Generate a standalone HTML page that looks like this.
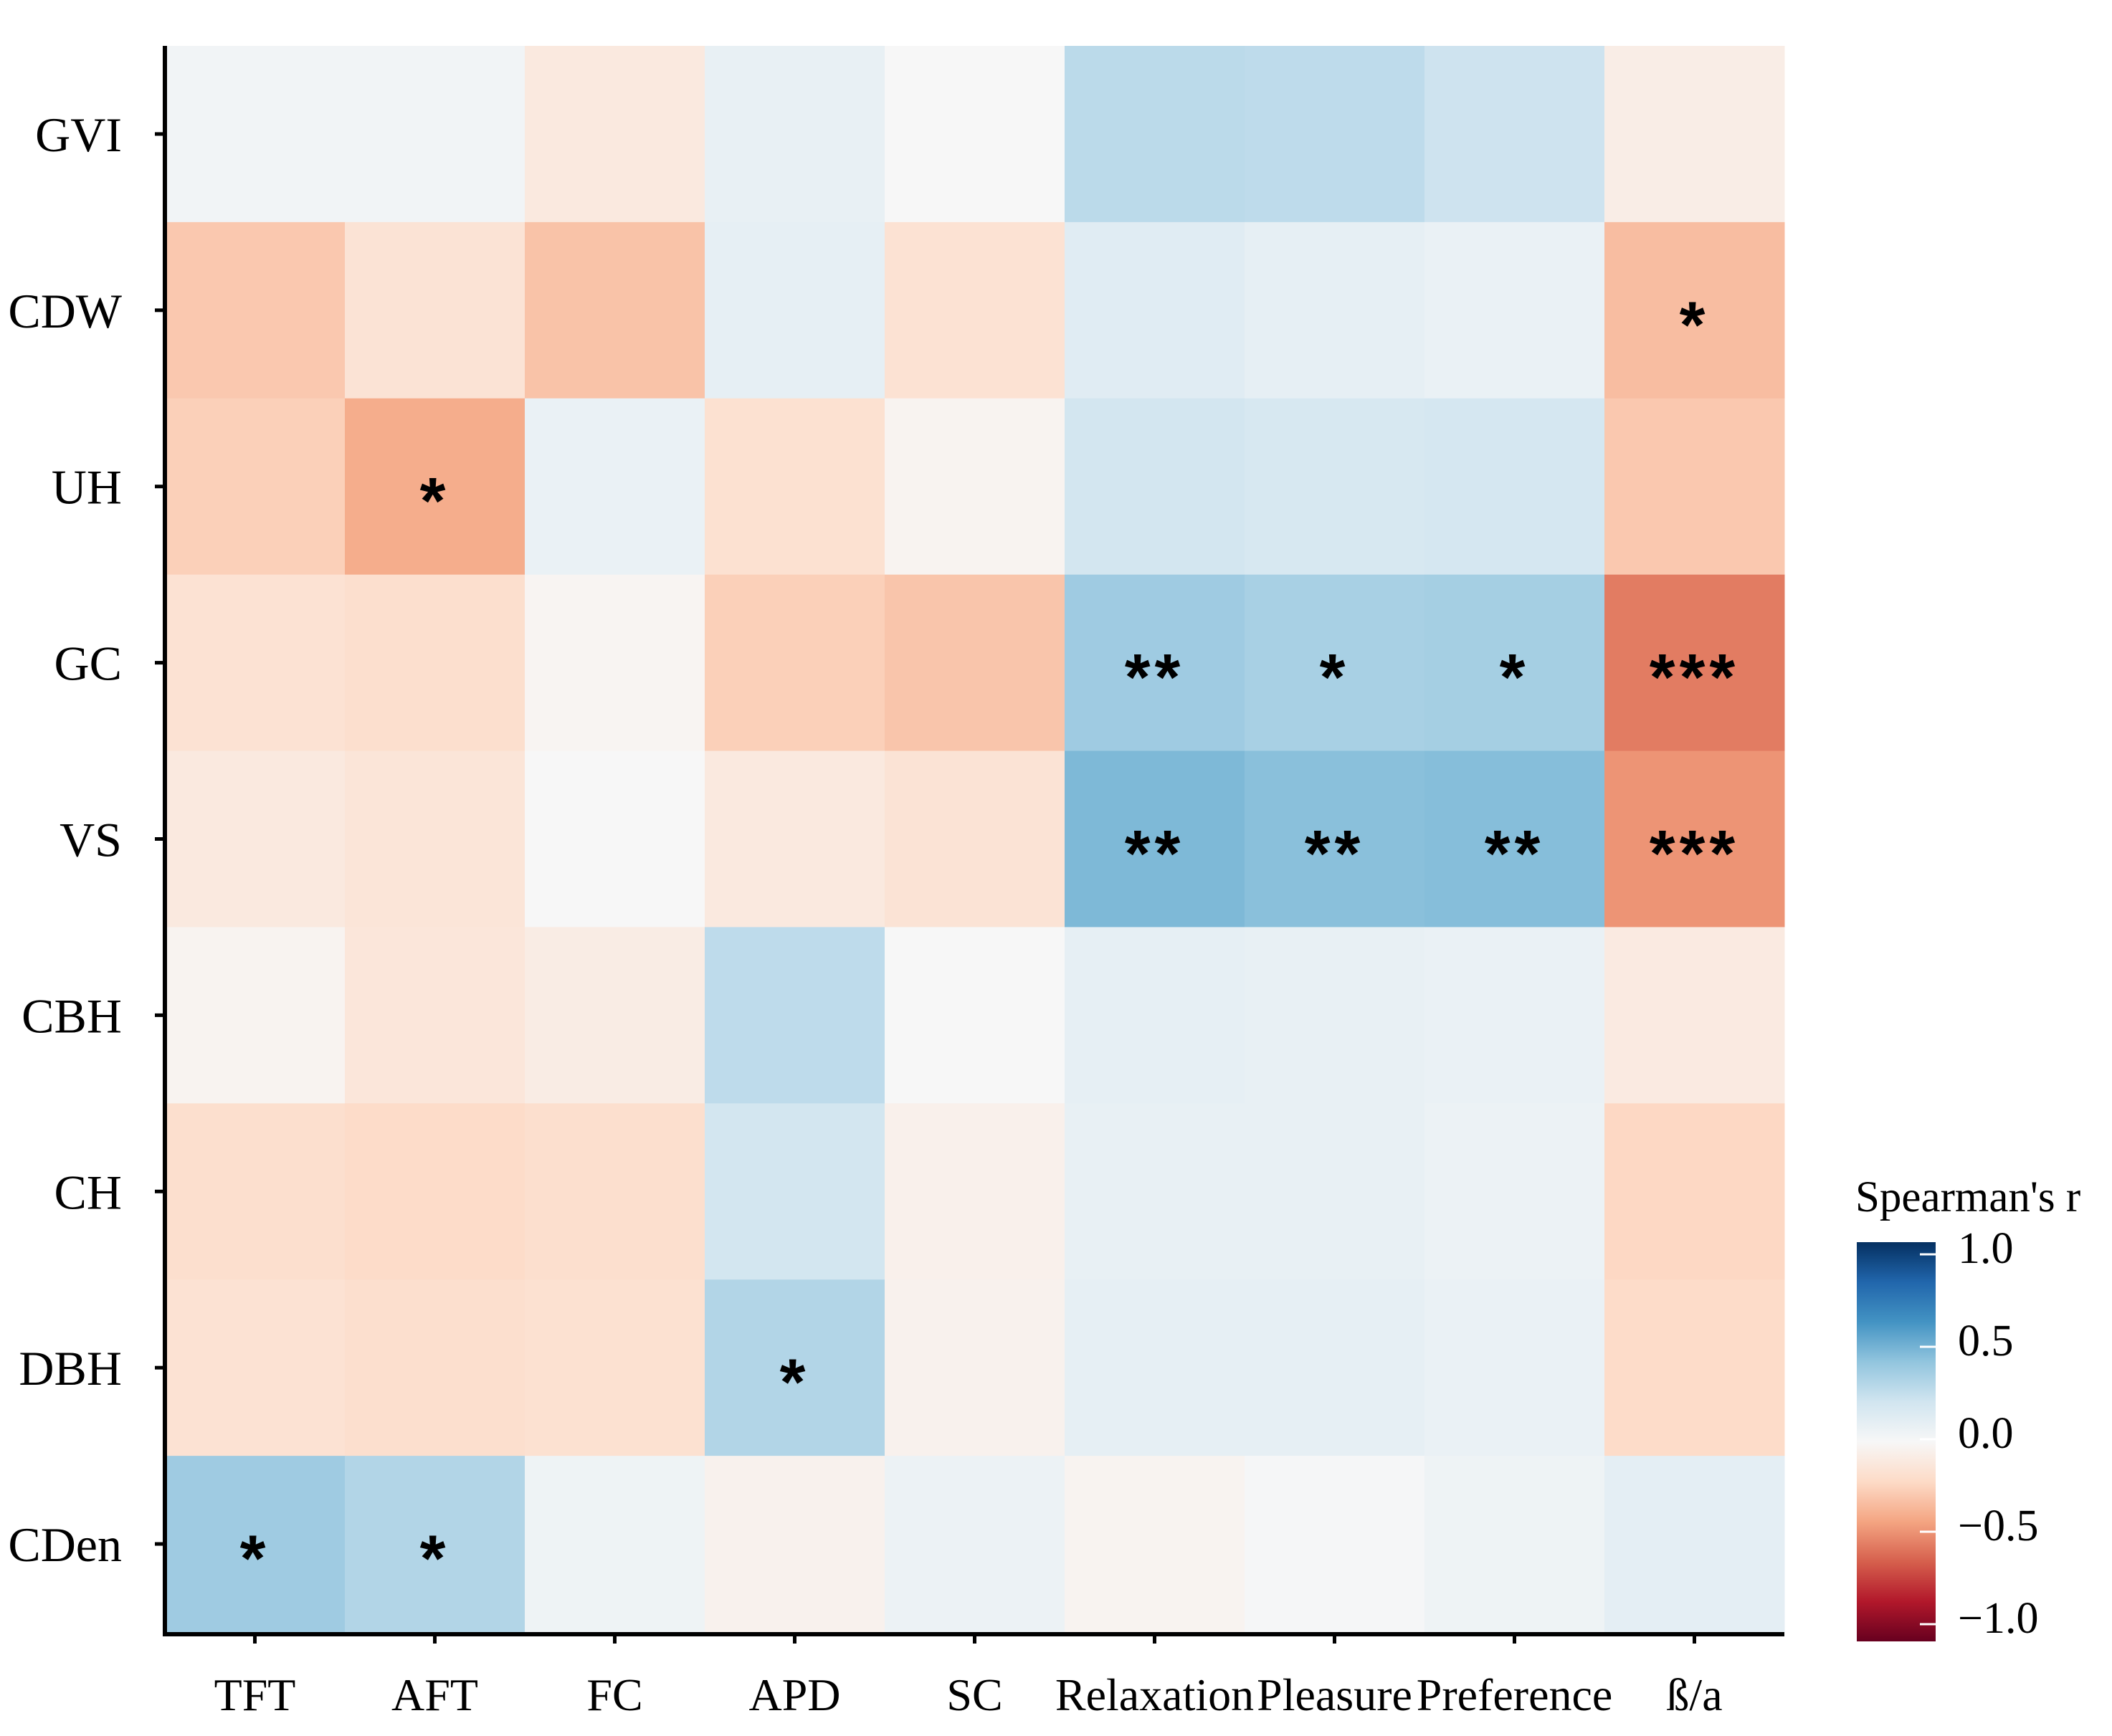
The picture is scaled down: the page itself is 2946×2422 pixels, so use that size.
<!DOCTYPE html>
<html><head><meta charset="utf-8"><style>
html,body{margin:0;padding:0;background:#fff;}
svg{display:block;font-family:"Liberation Serif",serif;}
</style></head><body>
<svg id="chart" width="2946" height="2422" viewBox="0 0 2946 2422" xmlns="http://www.w3.org/2000/svg">
<defs>
<linearGradient id="cbgrad" x1="0" y1="0" x2="0" y2="1">
<stop offset="0" stop-color="#053061"/><stop offset="0.1" stop-color="#2166ac"/><stop offset="0.2" stop-color="#4393c3"/><stop offset="0.3" stop-color="#92c5de"/><stop offset="0.4" stop-color="#d1e5f0"/><stop offset="0.5" stop-color="#f7f7f7"/><stop offset="0.6" stop-color="#fddbc7"/><stop offset="0.7" stop-color="#f4a582"/><stop offset="0.8" stop-color="#d6604d"/><stop offset="0.9" stop-color="#b2182b"/><stop offset="1" stop-color="#67001f"/>
</linearGradient>
</defs>
<g id="cells"></g>
<g id="stars"></g>
<g id="axes"></g>
<g id="legend">
<text x="2588" y="1690" font-size="61">Spearman's r</text>
<rect x="2590" y="1733" width="110" height="557" fill="url(#cbgrad)"/>
</g>
</svg>
<script>
const rows = ["GVI","CDW","UH","GC","VS","CBH","CH","DBH","CDen"];
const cols = ["TFT","AFT","FC","APD","SC","Relaxation","Pleasure","Preference","ß/a"];
const rGVI  = [0.03,0.03,-0.10,0.08,0.00,0.27,0.26,0.21,-0.07];
const rCDW  = [-0.27,-0.14,-0.29,0.09,-0.15,0.12,0.09,0.07,-0.31];
const rUH   = [-0.24,-0.37,0.07,-0.16,-0.03,0.19,0.17,0.18,-0.27];
const rGC   = [-0.15,-0.17,-0.02,-0.24,-0.28,0.36,0.33,0.34,-0.52];
const rVS   = [-0.10,-0.13,0.00,-0.10,-0.14,0.45,0.42,0.43,-0.45];
const rCBH  = [-0.03,-0.12,-0.08,0.26,0.00,0.09,0.08,0.07,-0.09];
const rCH   = [-0.17,-0.19,-0.17,0.19,-0.05,0.08,0.08,0.06,-0.21];
const rDBH  = [-0.15,-0.17,-0.16,0.30,-0.04,0.09,0.09,0.07,-0.19];
const rCDen = [0.36,0.30,0.05,-0.04,0.06,-0.03,0.01,0.05,0.10];
const sGVI  = ["","","","","","","","",""];
const sCDW  = ["","","","","","","","","*"];
const sUH   = ["","*","","","","","","",""];
const sGC   = ["","","","","","**","*","*","***"];
const sVS   = ["","","","","","**","**","**","***"];
const sCBH  = ["","","","","","","","",""];
const sCH   = ["","","","","","","","",""];
const sDBH  = ["","","","*","","","","",""];
const sCDen = ["*","*","","","","","","",""];
const legendTicks = [1.0,0.5,0.0,-0.5,-1.0];
const legendLabels = ["1.0","0.5","0.0","\u22120.5","\u22121.0"];

const values = [rGVI,rCDW,rUH,rGC,rVS,rCBH,rCH,rDBH,rCDen];
const stars = [sGVI,sCDW,sUH,sGC,sVS,sCBH,sCH,sDBH,sCDen];
const NS="http://www.w3.org/2000/svg";
const L=230,T=64,R=2489,B=2277;
const cw=(R-L)/cols.length, rh=(B-T)/rows.length;
const xPos=i=>L+i*cw, yPos=j=>T+j*rh;
const pal=["#67001f","#b2182b","#d6604d","#f4a582","#fddbc7","#f7f7f7","#d1e5f0","#92c5de","#4393c3","#2166ac","#053061"];
function hex(h){return [1,3,5].map(k=>parseInt(h.substr(k,2),16));}
function color(v){
  const t=(Math.max(-1,Math.min(1,v))+1)/2*10;
  const i=Math.min(9,Math.floor(t)), f=t-i;
  const a=hex(pal[i]), b=hex(pal[i+1]);
  return "rgb("+a.map((c,k)=>Math.round(c+(b[k]-c)*f)).join(",")+")";
}
const gC=document.getElementById("cells"), gS=document.getElementById("stars"), gA=document.getElementById("axes"), gL=document.getElementById("legend");
function mk(tag,attrs,parent){const e=document.createElementNS(NS,tag);for(const k in attrs)e.setAttribute(k,attrs[k]);parent.appendChild(e);return e;}
rows.forEach((rn,j)=>{
  cols.forEach((cn,i)=>{
    const r=mk("rect",{x:xPos(i),y:yPos(j),width:cw+0.5,height:rh+0.5,fill:color(values[j][i])},gC);
    
    
    if(stars[j][i]){
      const s=mk("text",{x:xPos(i)+cw/2,y:yPos(j)+rh/2+52,"text-anchor":"middle","font-size":"92","font-family":"Liberation Sans, sans-serif","font-weight":"bold","letter-spacing":"6"},gS);
      s.textContent=stars[j][i];
      
      
    }
  });
});
const ya=mk("line",{x1:L,y1:T,x2:L,y2:B+3,stroke:"#000","stroke-width":6},gA);


const xa=mk("line",{x1:L-3,y1:B+3,x2:R,y2:B+3,stroke:"#000","stroke-width":6},gA);


rows.forEach((rn,j)=>{
  const cy=yPos(j)+rh/2;
  const tk=mk("line",{x1:L-14,y1:cy,x2:L,y2:cy,stroke:"#000","stroke-width":5},gA);
  
  
  const t=mk("text",{x:170,y:cy+24,"text-anchor":"end","font-size":"68"},gA);
  t.textContent=rn;
  
  
});
cols.forEach((cn,i)=>{
  const cx=xPos(i)+cw/2;
  const tk=mk("line",{x1:cx,y1:B+3,x2:cx,y2:B+16,stroke:"#000","stroke-width":5},gA);
  
  
  const t=mk("text",{x:cx,y:2386,"text-anchor":"middle","font-size":"64"},gA);
  t.textContent=cn;
  
  
});
const lv=v=>2008-v*258;
legendTicks.forEach((v,k)=>{
  const y=lv(v);
  const tk=mk("line",{x1:2678,y1:y,x2:2700,y2:y,stroke:"#fff","stroke-width":3},gL);
  
  
  const t=mk("text",{x:2731,y:y+12,"font-size":"62"},gL);
  t.textContent=legendLabels[k];
  
  
});
</script>
</body></html>
